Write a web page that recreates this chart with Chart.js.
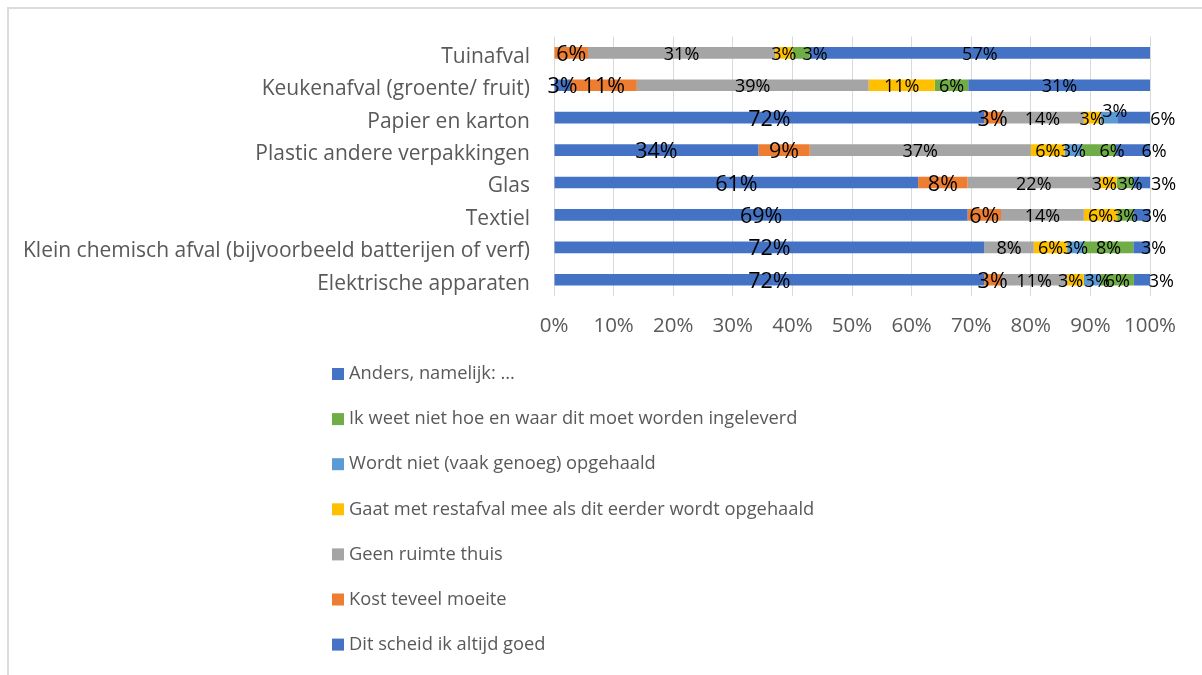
<!DOCTYPE html>
<html>
<head>
<meta charset="utf-8">
<script src="https://cdn.jsdelivr.net/npm/chart.js@4.4.1/dist/chart.umd.min.js"></script>
<style>
  html, body { margin: 0; padding: 0; background: #ffffff; overflow: hidden; }
  #wrap { position: relative; width: 1202px; height: 675px; }
  #frame { position: absolute; left: 7px; top: 7px; width: 1400px; height: 900px;
           border-left: 2px solid #dcdcdc; border-top: 2px solid #dcdcdc; }
  canvas { position: absolute; left: 0; top: 0; }
</style>
</head>
<body>
<div id="wrap">
  <div id="frame"></div>
  <canvas id="c" width="1202" height="675"></canvas>
</div>
<script>
// Categories (top to bottom)
const categories = [
  'Tuinafval',
  'Keukenafval (groente/ fruit)',
  'Papier en karton',
  'Plastic andere verpakkingen',
  'Glas',
  'Textiel',
  'Klein chemisch afval (bijvoorbeeld batterijen of verf)',
  'Elektrische apparaten'
];

// Series (percentages)
const seriesNames = [
  'Dit scheid ik altijd goed',
  'Kost teveel moeite',
  'Geen ruimte thuis',
  'Gaat met restafval mee als dit eerder wordt opgehaald',
  'Wordt niet (vaak genoeg) opgehaald',
  'Ik weet niet hoe en waar dit moet worden ingeleverd',
  'Anders, namelijk: ...'
];
const ditScheid   = [0,    2.8,  72.2, 34.3, 61.1, 69.4, 72.2, 72.2];
const kostMoeite  = [5.7,  11.1, 2.8,  8.6,  8.3,  5.6,  0,    2.8];
const geenRuimte  = [31.4, 38.9, 13.9, 37.1, 22.2, 13.9, 8.3,  11.1];
const restafval   = [2.9,  11.1, 2.8,  5.7,  2.8,  5.6,  5.6,  2.8];
const nietOpgehaald = [0,  0,    2.8,  2.9,  0,    0,    2.8,  2.8];
const weetNiet    = [2.9,  5.6,  0,    5.7,  2.8,  2.8,  8.3,  5.6];
const anders      = [57.1, 30.6, 5.6,  5.7,  2.8,  2.8,  2.8,  2.8];

const xTicks = [0, 10, 20, 30, 40, 50, 60, 70, 80, 90, 100];

const seriesValues = [ditScheid, kostMoeite, geenRuimte, restafval, nietOpgehaald, weetNiet, anders];
const seriesColors = ['#4472C4', '#ED7D31', '#A5A5A5', '#FFC000', '#5B9BD5', '#70AD47', '#4472C4'];

// Manual label nudges (dataset,index -> [dx, dy]) as in the original
const labelNudge = {
  '5,0': [14, 0],
  '4,2': [6, -8], '6,2': [29, 0],
  '5,3': [13, 0], '6,3': [21, 0],
  '3,4': [-4, 0], '5,4': [5, 0], '6,4': [22, 0],
  '6,5': [12, 0],
  '6,6': [12, 0],
  '3,7': [-5, 0], '4,7': [5, 0], '6,7': [19, 0]
};

const FONT = "'Open Sans', 'DejaVu Sans', sans-serif";

const labelPlugin = {
  id: 'segLabels',
  afterDatasetsDraw(chart) {
    const ctx = chart.ctx;
    ctx.save();
    chart.data.datasets.forEach((ds, d) => {
      const meta = chart.getDatasetMeta(d);
      const big = d <= 1;
      ctx.font = (big ? '21.5px ' : '18px ') + FONT;
      ctx.fillStyle = '#000000';
      ctx.textAlign = 'center';
      ctx.textBaseline = 'middle';
      meta.data.forEach((el, i) => {
        const v = ds.data[i];
        if (!v) return;
        const n = labelNudge[d + ',' + i] || [0, 0];
        const cx = (el.x + el.base) / 2 + n[0];
        const cy = el.y + 2 + n[1];
        ctx.fillText(Math.round(v) + '%', cx, cy);
      });
    });
    ctx.restore();
  }
};

const legendPlugin = {
  id: 'vertLegend',
  afterDraw(chart) {
    const ctx = chart.ctx;
    ctx.save();
    ctx.font = '18.3px ' + FONT;
    ctx.textAlign = 'left';
    ctx.textBaseline = 'middle';
    const dsets = chart.data.datasets;
    for (let k = 0; k < dsets.length; k++) {
      const d = dsets.length - 1 - k;
      const y = 374 + k * 45.1;
      ctx.fillStyle = dsets[d].backgroundColor;
      ctx.fillRect(332, y - 6, 12, 12);
      ctx.fillStyle = '#595959';
      ctx.fillText(dsets[d].label, 349, y);
    }
    ctx.restore();
  }
};

new Chart(document.getElementById('c'), {
  type: 'bar',
  data: {
    labels: categories,
    datasets: seriesNames.map((name, k) => ({
      label: name,
      data: seriesValues[k],
      backgroundColor: seriesColors[k],
      borderWidth: 0,
      categoryPercentage: 1,
      barPercentage: 0.36
    }))
  },
  options: {
    indexAxis: 'y',
    responsive: false,
    animation: false,
    devicePixelRatio: 1,
    layout: { padding: { left: 0, top: 35, right: 52, bottom: 339 } },
    plugins: { legend: { display: false }, tooltip: { enabled: false } },
    scales: {
      x: {
        stacked: true,
        min: 0, max: 100,
        afterBuildTicks(scale) { scale.ticks = xTicks.map(v => ({ value: v })); },
        afterFit(scale) { scale.height = 40; },
        grid: { color: '#d9d9d9', lineWidth: 1, drawTicks: false },
        border: { display: false },
        ticks: {
          padding: 18,
          color: '#595959',
          font: { family: FONT, size: 20.5 },
          callback: v => v + '%'
        }
      },
      y: {
        stacked: true,
        afterFit(scale) { scale.width = 554; },
        grid: { display: false, drawTicks: false },
        border: { display: false },
        ticks: {
          padding: 24,
          labelOffset: 4,
          color: '#595959',
          font: { family: FONT, size: 21 }
        }
      }
    }
  },
  plugins: [labelPlugin, legendPlugin]
});
</script>
</body>
</html>
